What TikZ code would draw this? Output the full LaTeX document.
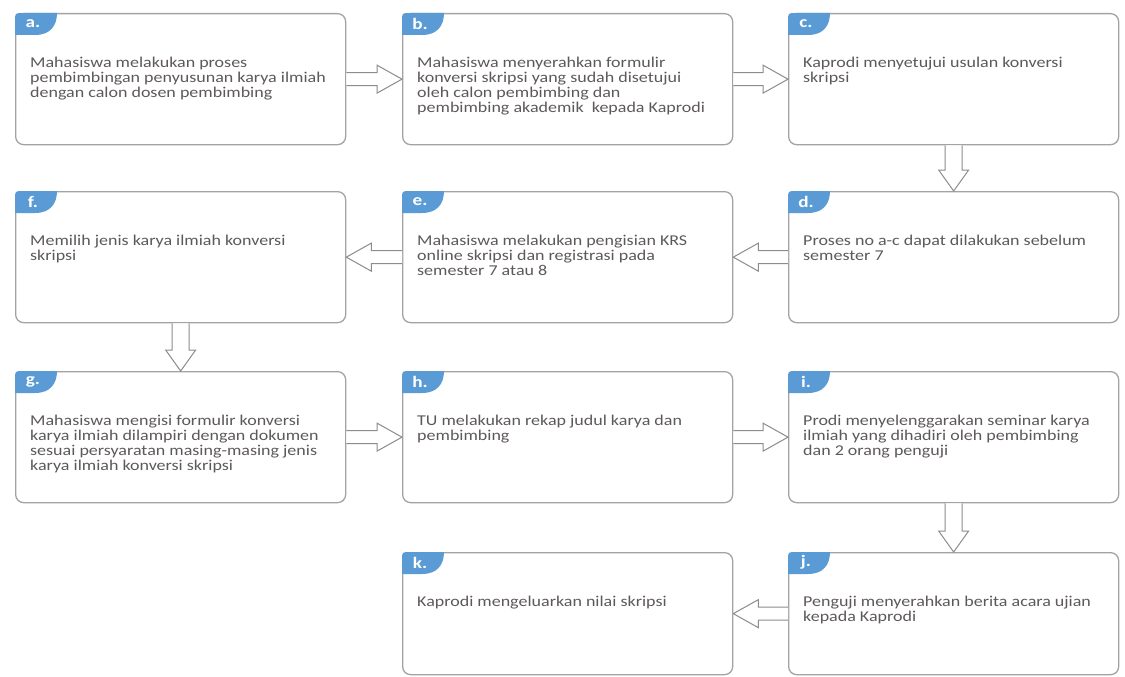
\documentclass[tikz,border=0pt]{standalone}
\usepackage{fontspec}
\setmainfont{Carlito}[FakeStretch=1.2]
\usetikzlibrary{calc}
\definecolor{boxline}{HTML}{A3A3A3}
\definecolor{txtgray}{HTML}{5E5959}
\definecolor{tabblue}{HTML}{5B9BD5}
\definecolor{arrline}{HTML}{8C8C8C}
\tikzset{
  flowbox/.style={draw=boxline, line width=1.3pt, rounded corners=8pt, fill=white,
    minimum width=330pt, minimum height=131pt, inner sep=0pt, anchor=north west},
  lastrow/.style={minimum height=122pt},
  flowtext/.style={anchor=north west, align=left, inner sep=0pt, text=txtgray,
    font=\fontsize{15}{14.8}\selectfont},
  tablabel/.style={text=white, font=\bfseries\fontsize{16}{16}\selectfont, inner sep=0pt},
  blockarrow/.style={draw=arrline, line width=1pt, fill=white, line join=miter}
}
% box macro: style, name, x, y, letter, text
\newcommand\flowbox[6][]{%
  \node[flowbox,#1] (#2) at (#3,#4) {};
  \fill[tabblue] ($(#2.north west)+(0,22)$) -- ($(#2.north west)+(0,8)$)
     .. controls (#2.north west) .. ($(#2.north west)+(8,0)$) -- ($(#2.north west)+(42,0)$)
     .. controls ($(#2.north west)+(42,13)$) and ($(#2.north west)+(35,22)$) .. ($(#2.north west)+(20,22)$) -- cycle;
  \node[tablabel] (#2l) at ($(#2.north west)+(18,10.5)$) {#5};
  \node[flowtext] (#2t) at ($(#2.north west)+(15,44)$) {#6};
}
% horizontal block arrow: from anchor, to anchor, head offset (negative = pointing right)
\newcommand\harr[3]{%
  \draw[blockarrow] ($(#1)+(0,-6.5)$) -- ($(#2)+(#3,-6.5)$) -- ($(#2)+(#3,-14)$) -- (#2)
     -- ($(#2)+(#3,14)$) -- ($(#2)+(#3,6.5)$) -- ($(#1)+(0,6.5)$);
}
% vertical block arrow (downward)
\newcommand\varr[2]{%
  \draw[blockarrow] ($(#1)+(-8.5,0)$) -- ($(#2)+(-8.5,-21)$) -- ($(#2)+(-15,-21)$) -- (#2)
     -- ($(#2)+(15,-21)$) -- ($(#2)+(8.5,-21)$) -- ($(#1)+(8.5,0)$);
}
\begin{document}
\begin{tikzpicture}[x=1pt, y=-1pt]
\useasboundingbox[fill=white] (0,0) rectangle (1125,677);

\flowbox{a}{15}{13}{a.}{Mahasiswa melakukan proses\\pembimbingan penyusunan karya ilmiah\\dengan calon dosen pembimbing}
\flowbox{b}{402}{13}{b.}{Mahasiswa menyerahkan formulir\\konversi skripsi yang sudah disetujui\\oleh calon pembimbing dan\\pembimbing akademik\ \ kepada Kaprodi}
\flowbox{c}{788}{13}{c.}{Kaprodi menyetujui usulan konversi\\skripsi}

\flowbox{f}{15}{191}{f.}{Memilih jenis karya ilmiah konversi\\skripsi}
\flowbox{e}{402}{191}{e.}{Mahasiswa melakukan pengisian KRS\\online skripsi dan registrasi pada\\semester 7 atau 8}
\flowbox{d}{788}{191}{d.}{Proses no a-c dapat dilakukan sebelum\\semester 7}

\flowbox{g}{15}{371}{g.}{Mahasiswa mengisi formulir konversi\\karya ilmiah dilampiri dengan dokumen\\sesuai persyaratan masing-masing jenis\\karya ilmiah konversi skripsi}
\flowbox{h}{402}{371}{h.}{TU melakukan rekap judul karya dan\\pembimbing}
\flowbox{i}{788}{371}{i.}{Prodi menyelenggarakan seminar karya\\ilmiah yang dihadiri oleh pembimbing\\dan 2 orang penguji}

\flowbox[lastrow]{k}{402}{552}{k.}{Kaprodi mengeluarkan nilai skripsi}
\flowbox[lastrow]{j}{788}{552}{j.}{Penguji menyerahkan berita acara ujian\\kepada Kaprodi}

\harr{a.east}{b.west}{-25}
\harr{b.east}{c.west}{-25}
\varr{c.south}{d.north}
\harr{d.west}{e.east}{25}
\harr{e.west}{f.east}{25}
\varr{f.south}{g.north}
\harr{g.east}{h.west}{-25}
\harr{h.east}{i.west}{-25}
\varr{i.south}{j.north}
\harr{j.west}{k.east}{25}
\end{tikzpicture}
\end{document}
